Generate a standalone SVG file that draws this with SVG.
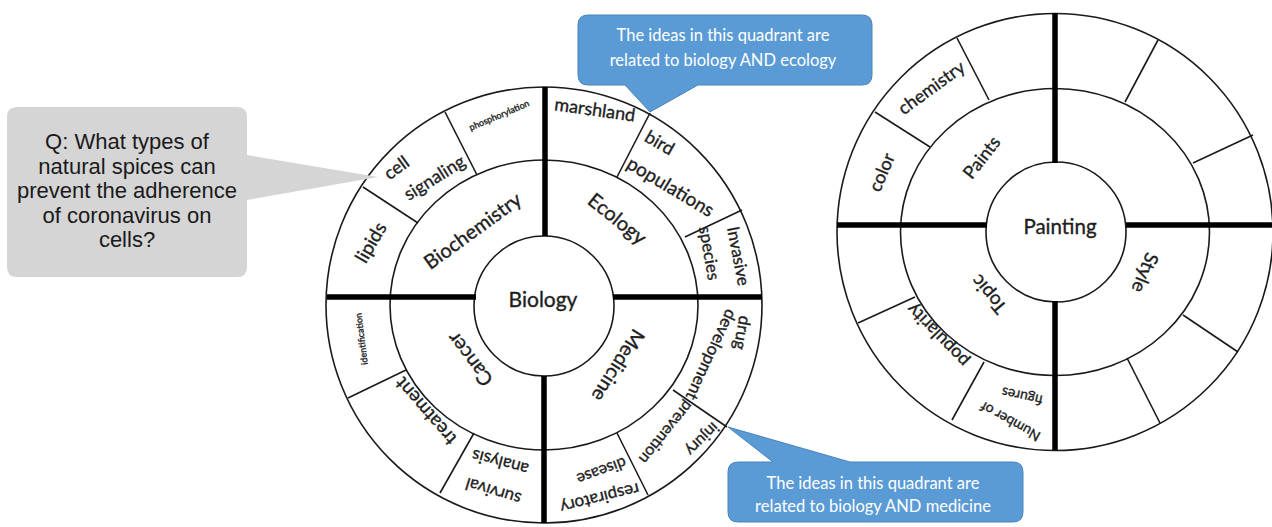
<svg xmlns="http://www.w3.org/2000/svg" width="1272" height="527" viewBox="0 0 1272 527">
<style>
.ring{fill:#fff;stroke:#1a1a1a;stroke-width:1.6}
.div{stroke:#1a1a1a;stroke-width:1.6;fill:none}
.thick{stroke:#000;stroke-width:5.5;fill:none}
.t{font-family:Lato,"Open Sans",sans-serif;fill:#1e1e1e;stroke:#1e1e1e;stroke-width:0.35;text-anchor:middle;dominant-baseline:central}
.cw{font-family:Lato,"Open Sans",sans-serif;fill:#fff;text-anchor:middle;font-size:16.5px}
.cq{font-family:"Liberation Sans",Arial,sans-serif;fill:#1a1a1a;text-anchor:middle;font-size:22px}
.blue{fill:#5b9bd5;stroke:#4a84bb;stroke-width:1}
</style>
<rect width="1272" height="527" fill="#fff"/>

<g id="wheel-biology">
<circle class="ring" cx="544" cy="305" r="218"/>
<ellipse class="ring" cx="544" cy="305" rx="154" ry="145"/>
<circle class="ring" cx="544" cy="306" r="70"/>
</g>

<g id="wheel-painting">
<ellipse class="ring" cx="1055" cy="232" rx="218" ry="218.5"/>
<ellipse class="ring" cx="1055" cy="232" rx="154.5" ry="143.5"/>
<circle class="ring" cx="1056" cy="232" r="70"/>
</g>

<g id="connectors">
<line class="div" x1="363" y1="187" x2="418" y2="223"/>
<line class="div" x1="445" y1="112" x2="477" y2="175"/>
<line class="div" x1="650" y1="113" x2="617" y2="177"/>
<line class="div" x1="742" y1="210" x2="685" y2="237"/>
<line class="div" x1="348" y1="398" x2="406" y2="370"/>
<line class="div" x1="440" y1="493" x2="474" y2="433"/>
<line class="div" x1="617" y1="433" x2="648" y2="495"/>
<line class="div" x1="673" y1="390" x2="727" y2="427"/>
<line class="thick" x1="545" y1="87" x2="545" y2="236"/>
<line class="thick" x1="544" y1="376" x2="544" y2="523"/>
<line class="thick" x1="327" y1="297" x2="476" y2="297"/>
<line class="thick" x1="613" y1="297" x2="762" y2="297"/>

<line class="div" x1="875" y1="112" x2="930" y2="147"/>
<line class="div" x1="957" y1="38" x2="989" y2="100"/>
<line class="div" x1="1158" y1="40" x2="1125" y2="102"/>
<line class="div" x1="1253" y1="135" x2="1193" y2="163"/>
<line class="div" x1="858" y1="323" x2="915" y2="297"/>
<line class="div" x1="952" y1="420" x2="984" y2="362"/>
<line class="div" x1="1127" y1="358" x2="1160" y2="423"/>
<line class="div" x1="1183" y1="315" x2="1238" y2="352"/>
<line class="thick" x1="1055" y1="13" x2="1055" y2="163"/>
<line class="thick" x1="1055" y1="301" x2="1055" y2="450"/>
<line class="thick" x1="837" y1="225" x2="987" y2="225"/>
<line class="thick" x1="1126" y1="225" x2="1272" y2="225"/>
</g>

<g id="labels-biology">
<text class="t" font-size="21" transform="translate(543,298)">Biology</text>
<text class="t" font-size="20" transform="translate(472,230) rotate(-36)">Biochemistry</text>
<text class="t" font-size="20" transform="translate(618,218) rotate(39)">Ecology</text>
<text class="t" font-size="20" transform="translate(469,360) rotate(-127)">Cancer</text>
<text class="t" font-size="20" transform="translate(619,366) rotate(122)">Medicine</text>
<text class="t" font-size="19" transform="translate(370,242) rotate(-60)">lipids</text>
<text class="t" font-size="18" transform="translate(396,167) rotate(-36)">cell</text>
<text class="t" font-size="18" transform="translate(434,177) rotate(-32)">signaling</text>
<text class="t" font-size="9" transform="translate(499,115) rotate(-23)">phosphorylation</text>
<text class="t" font-size="18" transform="translate(595,109) rotate(8)">marshland</text>
<text class="t" font-size="18" transform="translate(660,142) rotate(30)">bird</text>
<text class="t" font-size="19" transform="translate(671,186) rotate(31)">populations</text>
<text class="t" font-size="17" transform="translate(739,256) rotate(79)">Invasive</text>
<text class="t" font-size="17" transform="translate(710,253) rotate(80)">species</text>
<text class="t" font-size="9" transform="translate(361,339) rotate(-97)">identification</text>
<text class="t" font-size="19" transform="translate(425,412) rotate(-131)">treatment</text>
<text class="t" font-size="17" transform="translate(500,463) rotate(-165)">analysis</text>
<text class="t" font-size="17" transform="translate(493,492) rotate(-163)">survival</text>
<text class="t" font-size="17" transform="translate(743,333) rotate(100)">drug</text>
<text class="t" font-size="17" transform="translate(712,355) rotate(115)">development</text>
<text class="t" font-size="16" transform="translate(703,440) rotate(135)">injury</text>
<text class="t" font-size="16" transform="translate(667,433) rotate(129)">prevention</text>
<text class="t" font-size="16" transform="translate(602,472) rotate(160)">disease</text>
<text class="t" font-size="17" transform="translate(600,499) rotate(166)">respiratory</text>
</g>

<g id="labels-painting">
<text class="t" font-size="20.5" transform="translate(1060,226)">Painting</text>
<text class="t" font-size="18" transform="translate(981,157) rotate(-52)">Paints</text>
<text class="t" font-size="18" transform="translate(881,172) rotate(-67)">color</text>
<text class="t" font-size="18" transform="translate(931,87) rotate(-36)">chemistry</text>
<text class="t" font-size="19" transform="translate(1146,273) rotate(112)">Style</text>
<text class="t" font-size="19" transform="translate(988,295) rotate(-130)">Topic</text>
<text class="t" font-size="18" transform="translate(937,336) rotate(-134)">popularity</text>
<text class="t" font-size="14" transform="translate(1010,422) rotate(-151)">Number of</text>
<text class="t" font-size="14" transform="translate(1022,397) rotate(-168)">figures</text>
</g>

<g id="callout-question">
<path d="M17,107 H237 Q247,107 247,117 V155 L378,177 L247,200 V267 Q247,277 237,277 H17 Q7,277 7,267 V117 Q7,107 17,107 Z" fill="#d5d5d5"/>
<text class="cq" x="127" y="149">Q: What types of</text>
<text class="cq" x="127" y="173.5">natural spices can</text>
<text class="cq" x="127" y="198">prevent the adherence</text>
<text class="cq" x="127" y="222.5">of coronavirus on</text>
<text class="cq" x="127" y="247">cells?</text>
</g>

<g id="callout-ecology">
<path class="blue" d="M588,15 H862 Q872,15 872,25 V75 Q872,85 862,85 H698 L650,112 L625,85 H588 Q578,85 578,75 V25 Q578,15 588,15 Z"/>
<text class="cw" x="723" y="41">The ideas in this quadrant are</text>
<text class="cw" x="723" y="66">related to biology AND ecology</text>
</g>

<g id="callout-medicine">
<path class="blue" d="M738,462 H773 L728,427 L850,462 H1013 Q1023,462 1023,472 V512 Q1023,522 1013,522 H738 Q728,522 728,512 V472 Q728,462 738,462 Z"/>
<text class="cw" x="873" y="489">The ideas in this quadrant are</text>
<text class="cw" x="873" y="512">related to biology AND medicine</text>
</g>
</svg>
